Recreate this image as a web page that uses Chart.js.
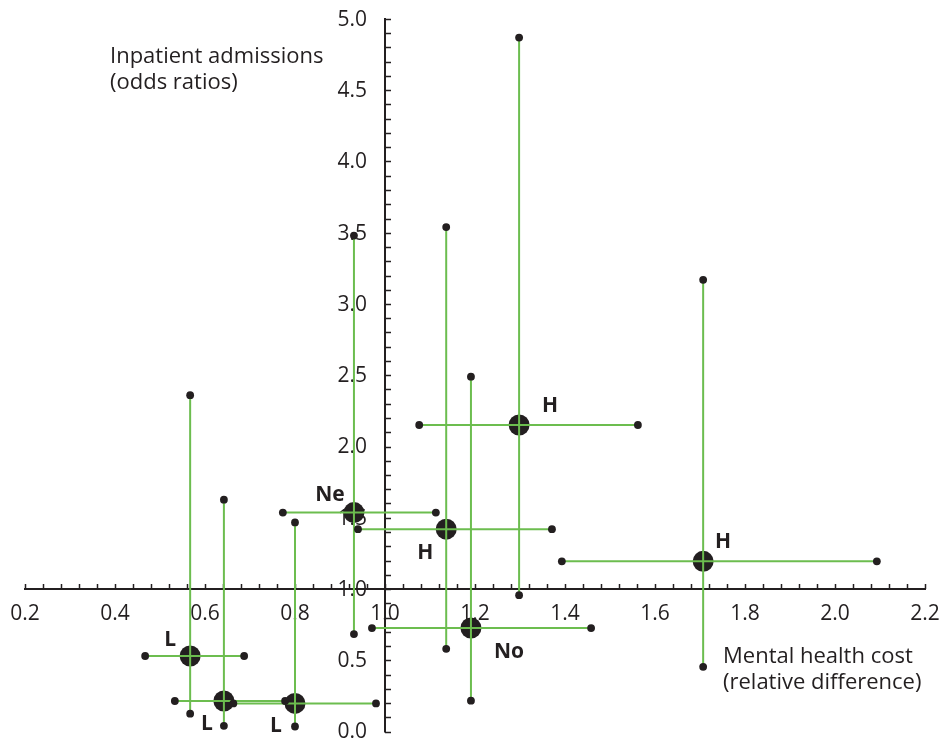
<!DOCTYPE html>
<html>
<head>
<meta charset="utf-8">
<title>Mental health cost vs inpatient admissions</title>
<script src="https://cdn.jsdelivr.net/npm/chart.js@4.4.1/dist/chart.umd.min.js"></script>
<style>
  html, body { margin: 0; padding: 0; background: #fff; }
  #wrap { position: relative; width: 941px; height: 742px; }
</style>
</head>
<body>
<div id="wrap"><canvas id="chart"></canvas></div>
<script>
// group labels and estimates (x: relative difference in cost, y: odds ratio)
const groups = ['L', 'L', 'L', 'Ne', 'H', 'H', 'No', 'H'];
const costMid  = [0.567, 0.642, 0.800, 0.931, 1.136, 1.298, 1.191, 1.707];
const costLow  = [0.467, 0.533, 0.663, 0.773, 0.940, 1.076, 0.971, 1.393];
const costHigh = [0.687, 0.778, 0.980, 1.113, 1.371, 1.562, 1.458, 2.093];
const oddsMid  = [0.530, 0.214, 0.197, 1.536, 1.420, 2.151, 0.726, 1.194];
const oddsLow  = [0.125, 0.040, 0.035, 0.684, 0.580, 0.957, 0.216, 0.454];
const oddsHigh = [2.360, 1.627, 1.467, 3.480, 3.540, 4.870, 2.490, 3.170];

// axis ticks
const xTickLabels = ['0.2', '0.4', '0.6', '0.8', '1.0', '1.2', '1.4', '1.6', '1.8', '2.0', '2.2'];
const yTickLabels = ['0.0', '0.5', '1.0', '1.5', '2.0', '2.5', '3.0', '3.5', '4.0', '4.5', '5.0'];

const GREEN = '#6cbd4f';
const INK = '#231f20';
const FONT = '"Open Sans", "DejaVu Sans", sans-serif';

// where each group label sits relative to its point (px)
const labelOffsets = [[-20, -16], [-17, 23], [-19, 23], [-24, -18], [-21, 24], [31, -19], [38, 24], [20, -19]];

const datasets = [];

// big estimate markers, drawn underneath the whiskers
datasets.push({
  label: 'estimates',
  data: costMid.map((x, i) => ({ x: x, y: oddsMid[i] })),
  pointRadius: 10.5,
  pointBackgroundColor: INK,
  pointBorderWidth: 0,
  order: 2
});

// horizontal and vertical whiskers
costMid.forEach((x, i) => {
  datasets.push({
    label: 'cost ci ' + i,
    data: [{ x: costLow[i], y: oddsMid[i] }, { x: costHigh[i], y: oddsMid[i] }],
    showLine: true,
    borderColor: GREEN,
    borderWidth: 2,
    pointRadius: 0,
    order: 1
  });
  datasets.push({
    label: 'odds ci ' + i,
    data: [{ x: x, y: oddsLow[i] }, { x: x, y: oddsHigh[i] }],
    showLine: true,
    borderColor: GREEN,
    borderWidth: 2,
    pointRadius: 0,
    order: 1
  });
});

// whisker end caps
const ends = [];
costMid.forEach((x, i) => {
  ends.push({ x: costLow[i], y: oddsMid[i] }, { x: costHigh[i], y: oddsMid[i] });
  ends.push({ x: x, y: oddsLow[i] }, { x: x, y: oddsHigh[i] });
});
datasets.push({
  label: 'ends',
  data: ends,
  pointRadius: 3.9,
  pointBackgroundColor: INK,
  pointBorderWidth: 0,
  order: 0
});

// crossing axes with inward ticks, drawn before the data
const crossAxes = {
  id: 'crossAxes',
  beforeDatasetsDraw(chart) {
    const ctx = chart.ctx;
    const xs = chart.scales.x, ys = chart.scales.y;
    const x0 = xs.getPixelForValue(1.0);
    const y0 = ys.getPixelForValue(1.0);
    ctx.save();
    ctx.strokeStyle = INK;
    ctx.fillStyle = INK;

    // x axis
    ctx.lineWidth = 2;
    ctx.beginPath();
    ctx.moveTo(xs.getPixelForValue(0.2) - 1, y0);
    ctx.lineTo(xs.getPixelForValue(2.2) + 1, y0);
    ctx.stroke();
    ctx.lineWidth = 1.5;
    for (let k = 0; k <= 50; k++) {
      const px = Math.round(xs.getPixelForValue(0.2 + k * 0.04)) + 0.5;
      ctx.beginPath();
      ctx.moveTo(px, y0);
      ctx.lineTo(px, y0 - 5);
      ctx.stroke();
    }

    // y axis
    ctx.lineWidth = 2;
    ctx.beginPath();
    ctx.moveTo(x0, ys.getPixelForValue(0) + 1);
    ctx.lineTo(x0, ys.getPixelForValue(5) - 1);
    ctx.stroke();
    ctx.lineWidth = 1.5;
    for (let k = 0; k <= 50; k++) {
      const py = Math.round(ys.getPixelForValue(k * 0.1)) + 0.5;
      ctx.beginPath();
      ctx.moveTo(x0, py);
      ctx.lineTo(x0 + 6, py);
      ctx.stroke();
    }

    ctx.font = '21px ' + FONT;
    ctx.textBaseline = 'middle';
    ctx.textAlign = 'center';
    xTickLabels.forEach(t => {
      ctx.fillText(t, xs.getPixelForValue(parseFloat(t)), y0 + 25);
    });
    ctx.textAlign = 'right';
    yTickLabels.forEach(t => {
      ctx.fillText(t, x0 - 18, ys.getPixelForValue(parseFloat(t)) + 1);
    });

    // axis titles
    ctx.font = '22px ' + FONT;
    ctx.textAlign = 'left';
    ctx.fillText('Inpatient admissions', 110, 57);
    ctx.fillText('(odds ratios)', 110, 83);
    ctx.fillText('Mental health cost', 723, 657);
    ctx.fillText('(relative difference)', 723, 683);
    ctx.restore();
  },
  afterDatasetsDraw(chart) {
    const ctx = chart.ctx;
    const xs = chart.scales.x, ys = chart.scales.y;
    ctx.save();
    ctx.fillStyle = INK;
    ctx.font = 'bold 21px ' + FONT;
    ctx.textAlign = 'center';
    ctx.textBaseline = 'middle';
    groups.forEach((g, i) => {
      const px = xs.getPixelForValue(costMid[i]) + labelOffsets[i][0];
      const py = ys.getPixelForValue(oddsMid[i]) + labelOffsets[i][1];
      ctx.fillText(g, px, py);
    });
    ctx.restore();
  }
};

new Chart(document.getElementById('chart'), {
  type: 'scatter',
  data: { datasets: datasets },
  options: {
    responsive: true,
    maintainAspectRatio: false,
    animation: false,
    layout: { padding: { left: 25, right: 16, top: 19, bottom: 7 } },
    plugins: { legend: { display: false }, tooltip: { enabled: false } },
    scales: {
      x: { type: 'linear', min: 0.2, max: 2.2, display: false },
      y: { type: 'linear', min: 0, max: 5, display: false }
    }
  },
  plugins: [crossAxes]
});
</script>
</body>
</html>
